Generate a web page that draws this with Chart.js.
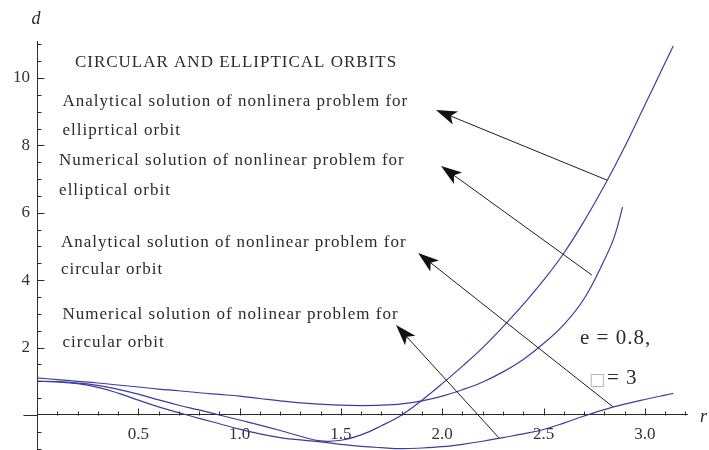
<!DOCTYPE html>
<html lang="en">
<head>
    <meta charset="UTF-8">
    <title>Circular and elliptical orbits</title>
    <style>
        body {
            margin: 0;
            background: #fff;
        }

        #chart {
            display: block;
        }
    </style>
</head>
<body>
    <canvas id="chart" width="709" height="450"></canvas>
    <script src="https://cdn.jsdelivr.net/npm/chart.js@4.4.1/dist/chart.umd.min.js"></script>
    <script>
        // analytical, elliptical orbit (steep curve)
        var rEllAn = [0, 0.1, 0.2, 0.3, 0.4, 0.5, 0.6, 0.7, 0.8, 0.9, 1.0, 1.1, 1.2, 1.3, 1.4, 1.5, 1.6, 1.7, 1.8, 1.9,
            2.0, 2.1, 2.2, 2.3, 2.4, 2.5, 2.6, 2.7, 2.8, 2.9, 3.0, 3.1, 3.14];
        var dEllAn = [1.00, 0.99, 0.95, 0.88, 0.76, 0.62, 0.45, 0.29, 0.15, 0.00, -0.15, -0.30, -0.46, -0.63, -0.77, -0.75,
            -0.59, -0.32, 0.00, 0.44, 0.93, 1.45, 2.00, 2.62, 3.28, 4.00, 4.80, 5.75, 6.80, 7.95, 9.20, 10.45, 10.95];

        // numerical, elliptical orbit (flat then rising)
        var rEllNum = [0, 0.1, 0.2, 0.3, 0.4, 0.5, 0.6, 0.7, 0.8, 0.9, 1.0, 1.1, 1.2, 1.3, 1.4, 1.5, 1.6, 1.7, 1.8, 1.9,
            2.0, 2.1, 2.2, 2.3, 2.4, 2.5, 2.6, 2.7, 2.8, 2.85, 2.89];
        var dEllNum = [1.10, 1.05, 1.00, 0.95, 0.89, 0.83, 0.77, 0.72, 0.66, 0.61, 0.56, 0.49, 0.42, 0.36, 0.32, 0.29,
            0.28, 0.29, 0.33, 0.42, 0.56, 0.75, 0.98, 1.28, 1.65, 2.12, 2.68, 3.45, 4.60, 5.30, 6.17];

        // circular orbit (analytical and numerical lie on top of each other)
        var rCirc = [0, 0.1, 0.2, 0.3, 0.4, 0.5, 0.6, 0.7, 0.8, 0.9, 1.0, 1.1, 1.2, 1.3, 1.4, 1.5, 1.6, 1.7, 1.8, 1.9,
            2.0, 2.1, 2.2, 2.3, 2.4, 2.5, 2.6, 2.7, 2.8, 2.9, 3.0, 3.1, 3.14];
        var dCirc = [1.00, 0.98, 0.93, 0.82, 0.65, 0.44, 0.24, 0.07, -0.10, -0.26, -0.42, -0.56, -0.67, -0.74, -0.80, -0.87,
            -0.93, -0.97, -1.00, -0.98, -0.94, -0.87, -0.78, -0.67, -0.56, -0.43, -0.24, -0.03, 0.16, 0.32, 0.46, 0.59, 0.64];

        var xMajor = [0.5, 1.0, 1.5, 2.0, 2.5, 3.0];
        var yMajor = [2, 4, 6, 8, 10];

        var X_MIN = 0, X_MAX = 3.208;
        var Y_MIN = -1.039, Y_MAX = 11.098;

        var xTicks = [];
        for (var i = 1; i <= 32; i++) xTicks.push(i / 10);
        var yTicks = [];
        for (var j = -2; j <= 22; j++) if (j !== 0) yTicks.push(j / 2);

        function isMajor(list, v) {
            return list.some(function (m) { return Math.abs(m - v) < 1e-6; });
        }

        function toPoints(xs, ys) {
            return xs.map(function (x, k) { return { x: x, y: ys[k] }; });
        }

        var BLUE = '#3d3d9c';
        var INK = '#2b2b2b';
        var SERIF = '"Liberation Serif", "Times New Roman", serif';

        // text notes, placed in data units (r, d of baseline-left)
        var notes = [
            { t: 'CIRCULAR AND ELLIPTICAL ORBITS', r: 0.187, d: 10.33 },
            { t: 'Analytical solution of nonlinera problem for', r: 0.126, d: 9.17 },
            { t: 'elliprtical orbit', r: 0.126, d: 8.31 },
            { t: 'Numerical solution of nonlinear problem for', r: 0.109, d: 7.42 },
            { t: 'elliptical orbit', r: 0.109, d: 6.53 },
            { t: 'Analytical solution of nonlinear problem for', r: 0.118, d: 4.99 },
            { t: 'circular orbit', r: 0.118, d: 4.18 },
            { t: 'Numerical solution of nolinear problem for', r: 0.126, d: 2.85 },
            { t: 'circular orbit', r: 0.126, d: 2.02 }
        ];

        // arrows: tail (on curve) -> tip (near note)
        var arrows = [
            [2.813, 6.97, 1.969, 9.05],
            [2.739, 4.15, 1.994, 7.39],
            [2.843, 0.24, 1.881, 4.81],
            [2.280, -0.68, 1.772, 2.67]
        ];

        var decorPlugin = {
            id: 'decor',
            afterDraw: function (chart) {
                var ctx = chart.ctx;
                var xs = chart.scales.x, ys = chart.scales.y;
                var y0 = Math.round(ys.getPixelForValue(0)) + 0.5;
                var x0 = Math.round(xs.getPixelForValue(0)) + 0.5;
                ctx.save();

                // axis stub left of origin
                ctx.strokeStyle = INK;
                ctx.lineWidth = 1;
                ctx.beginPath();
                ctx.moveTo(xs.getPixelForValue(-0.067), y0);
                ctx.lineTo(x0, y0);
                ctx.stroke();

                // inward tick marks
                ctx.beginPath();
                xs.ticks.forEach(function (t) {
                    var px = Math.round(xs.getPixelForValue(t.value)) + 0.5;
                    var len = isMajor(xMajor, t.value) ? 7 : 4;
                    ctx.moveTo(px, y0);
                    ctx.lineTo(px, y0 - len);
                });
                ys.ticks.forEach(function (t) {
                    var py = Math.round(ys.getPixelForValue(t.value)) + 0.5;
                    var len = isMajor(yMajor, t.value) ? 7 : 4;
                    ctx.moveTo(x0, py);
                    ctx.lineTo(x0 + len, py);
                });
                ctx.stroke();

                // axis names
                ctx.fillStyle = INK;
                ctx.textBaseline = 'alphabetic';
                ctx.font = 'italic 18px ' + SERIF;
                ctx.fillText('d', x0 - 6, chart.chartArea.top - 17);
                ctx.fillText('r', xs.right + 13, y0 + 6);

                // notes
                ctx.font = '17px ' + SERIF;
                ctx.letterSpacing = '1px';
                notes.forEach(function (n) {
                    ctx.fillText(n.t, xs.getPixelForValue(n.r), ys.getPixelForValue(n.d));
                });

                ctx.font = '21px ' + SERIF;
                ctx.fillText('e = 0.8,', xs.getPixelForValue(2.680), ys.getPixelForValue(2.11));
                var bx = xs.getPixelForValue(2.729), by = ys.getPixelForValue(0.92);
                ctx.fillStyle = '#b5b5b5';
                ctx.font = '17px "DejaVu Sans", sans-serif';
                ctx.letterSpacing = '0px';
                ctx.fillText('\u25A1', bx - 1, by + 1);
                ctx.fillStyle = INK;
                ctx.font = '21px ' + SERIF;
                ctx.letterSpacing = '1px';
                ctx.fillText('= 3', bx + 17, by);
                ctx.letterSpacing = '0px';

                // arrows
                ctx.strokeStyle = '#1e1e1e';
                ctx.fillStyle = '#111';
                arrows.forEach(function (a) {
                    var tx = xs.getPixelForValue(a[0]), ty = ys.getPixelForValue(a[1]);
                    var hx = xs.getPixelForValue(a[2]), hy = ys.getPixelForValue(a[3]);
                    var dx = hx - tx, dy = hy - ty;
                    var L = Math.sqrt(dx * dx + dy * dy);
                    var ux = dx / L, uy = dy / L;
                    var nx = -uy, ny = ux;
                    var head = 21, half = 7, notch = 16;
                    ctx.beginPath();
                    ctx.moveTo(tx, ty);
                    ctx.lineTo(hx - ux * notch, hy - uy * notch);
                    ctx.stroke();
                    ctx.beginPath();
                    ctx.moveTo(hx, hy);
                    ctx.lineTo(hx - ux * head + nx * half, hy - uy * head + ny * half);
                    ctx.lineTo(hx - ux * notch, hy - uy * notch);
                    ctx.lineTo(hx - ux * head - nx * half, hy - uy * head - ny * half);
                    ctx.closePath();
                    ctx.fill();
                });
                ctx.restore();
            }
        };

        function lineSet(xs, ys) {
            return {
                data: toPoints(xs, ys),
                showLine: true,
                borderColor: BLUE,
                borderWidth: 1.2,
                pointRadius: 0,
                fill: false,
                tension: 0.4
            };
        }

        var tickFont = { family: SERIF, size: 17 };

        new Chart(document.getElementById('chart'), {
            type: 'scatter',
            data: {
                datasets: [
                    lineSet(rEllAn, dEllAn),
                    lineSet(rEllNum, dEllNum),
                    lineSet(rCirc, dCirc)
                ]
            },
            options: {
                responsive: false,
                animation: false,
                events: [],
                layout: { padding: { left: 0, right: 22, top: 41, bottom: 0 } },
                plugins: { legend: { display: false }, tooltip: { enabled: false } },
                scales: {
                    x: {
                        type: 'linear',
                        position: { y: 0 },
                        min: X_MIN,
                        max: X_MAX,
                        afterFit: function (s) {
                            s.height = 0;
                            s.paddingTop = 0;
                            s.paddingBottom = 0;
                        },
                        afterBuildTicks: function (s) { s.ticks = xTicks.map(function (v) { return { value: v }; }); },
                        ticks: {
                            autoSkip: false,
                            maxRotation: 0,
                            padding: 9,
                            color: '#333',
                            font: tickFont,
                            callback: function (v) { return isMajor(xMajor, v) ? v.toFixed(1) : ''; }
                        },
                        grid: { display: false, drawTicks: false },
                        border: { color: INK, width: 1 }
                    },
                    y: {
                        type: 'linear',
                        position: 'left',
                        min: Y_MIN,
                        max: Y_MAX,
                        afterFit: function (s) {
                            s.width = 37;
                            s.paddingTop = 0;
                            s.paddingBottom = 0;
                        },
                        afterBuildTicks: function (s) { s.ticks = yTicks.map(function (v) { return { value: v }; }); },
                        ticks: {
                            autoSkip: false,
                            padding: 7,
                            color: '#333',
                            font: tickFont,
                            callback: function (v) { return isMajor(yMajor, v) ? String(v) : ''; }
                        },
                        grid: { display: false, drawTicks: false },
                        border: { color: INK, width: 1 }
                    }
                }
            },
            plugins: [decorPlugin]
        });
    </script>
</body>
</html>
